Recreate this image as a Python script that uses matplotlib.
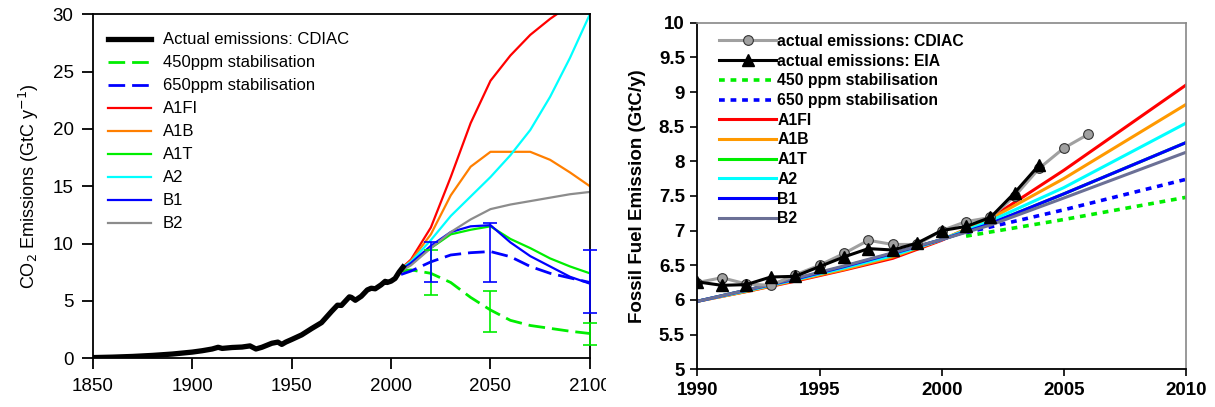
import numpy as np
import matplotlib
matplotlib.use("Agg")
import matplotlib.pyplot as plt
from matplotlib.ticker import FuncFormatter
from matplotlib.transforms import Bbox, TransformedBbox

plt.rcParams['font.family'] = ['Liberation Sans', 'DejaVu Sans']

# ---- left panel data: CDIAC history and SRES / stabilisation scenarios ----
cdiac_years = [1850, 1860, 1870, 1880, 1890, 1900, 1905, 1910, 1913, 1915, 1920, 1925,
               1929, 1932, 1935, 1940, 1943, 1945, 1947, 1950, 1955, 1960, 1965, 1970,
               1973, 1975, 1979, 1980, 1982, 1985, 1988, 1990, 1992, 1995, 1997, 1998,
               2000, 2002, 2004, 2006]
cdiac_vals = [0.05, 0.09, 0.15, 0.24, 0.36, 0.53, 0.65, 0.80, 0.95, 0.85, 0.93, 0.97,
              1.07, 0.80, 0.95, 1.30, 1.40, 1.20, 1.40, 1.63, 2.03, 2.58, 3.10, 4.07,
              4.62, 4.60, 5.35, 5.30, 5.05, 5.40, 5.95, 6.10, 6.05, 6.40, 6.70, 6.60,
              6.72, 6.95, 7.50, 7.95]

scen_years = [2005, 2010, 2020, 2030, 2040, 2050, 2060, 2070, 2080, 2090, 2100]
a1fi = [7.8, 8.6, 11.4, 15.8, 20.5, 24.2, 26.4, 28.2, 29.6, 30.8, 31.8]
a1b = [7.8, 8.5, 10.8, 14.2, 16.7, 18.0, 18.0, 18.0, 17.3, 16.2, 15.0]
a1t = [7.7, 8.3, 9.6, 10.8, 11.2, 11.5, 10.4, 9.6, 8.7, 8.0, 7.4]
a2 = [7.8, 8.4, 10.3, 12.4, 14.1, 15.8, 17.7, 19.9, 22.8, 26.2, 30.0]
b1 = [7.7, 8.3, 9.8, 11.0, 11.5, 11.6, 10.1, 8.9, 8.0, 7.1, 6.5]
b2 = [7.6, 8.1, 9.6, 11.0, 12.1, 13.0, 13.4, 13.7, 14.0, 14.3, 14.5]
stab450 = [7.6, 7.7, 7.4, 6.6, 5.3, 4.2, 3.3, 2.85, 2.6, 2.35, 2.15]
stab650 = [7.3, 7.6, 8.4, 9.0, 9.2, 9.3, 8.85, 8.0, 7.4, 7.0, 6.6]

err_years = [2020, 2050, 2100]
err450_low = [5.5, 2.3, 1.15]
err450_high = [9.4, 5.9, 3.1]
err650_low = [6.65, 6.65, 3.9]
err650_high = [10.1, 11.75, 9.4]

# ---- right panel data: 1990-2010 zoom ----
cdiac_r_years = [1990, 1991, 1992, 1993, 1994, 1995, 1996, 1997, 1998, 1999, 2000,
                 2001, 2002, 2003, 2004, 2005, 2006]
cdiac_r_vals = [6.25, 6.32, 6.23, 6.21, 6.36, 6.50, 6.67, 6.86, 6.80, 6.80, 7.00,
                7.13, 7.19, 7.50, 7.90, 8.19, 8.39]
eia_years = [1990, 1991, 1992, 1993, 1994, 1995, 1996, 1997, 1998, 1999, 2000,
             2001, 2002, 2003, 2004]
eia_vals = [6.26, 6.21, 6.22, 6.33, 6.34, 6.48, 6.62, 6.74, 6.72, 6.82, 7.00,
            7.06, 7.19, 7.55, 7.95]

r_years = [1990, 1992, 1994, 1996, 1998, 2000, 2002, 2005, 2010]
r_a1fi = [5.98, 6.12, 6.27, 6.43, 6.60, 6.86, 7.18, 7.87, 9.10]
r_a1b = [5.98, 6.12, 6.28, 6.44, 6.62, 6.87, 7.17, 7.75, 8.82]
r_a2 = [5.98, 6.13, 6.29, 6.46, 6.64, 6.87, 7.14, 7.62, 8.55]
r_b1 = [5.98, 6.14, 6.30, 6.48, 6.67, 6.87, 7.10, 7.53, 8.27]
r_a1t = [5.98, 6.14, 6.30, 6.48, 6.67, 6.87, 7.10, 7.53, 8.27]
r_b2 = [5.98, 6.14, 6.31, 6.49, 6.68, 6.87, 7.08, 7.47, 8.13]
stab_r_years = [2001, 2005, 2010]
r_stab450 = [6.92, 7.16, 7.48]
r_stab650 = [6.97, 7.30, 7.74]

fig = plt.figure(figsize=(12.15, 4.07), dpi=100)
ax_l = fig.add_axes([0.0765, 0.120, 0.409, 0.845])
ax_r = fig.add_axes([0.574, 0.093, 0.402, 0.851])

# LEFT PANEL
dash = (0, (6, 2.5))
ax_l.plot(cdiac_years, cdiac_vals, color='black', lw=3.8, label='Actual emissions: CDIAC', zorder=5)
ax_l.plot(scen_years, stab450, color='#00ee00', lw=2, ls=dash, label='450ppm stabilisation')
ax_l.plot(scen_years, stab650, color='#0000ff', lw=2, ls=dash, label='650ppm stabilisation')
ax_l.plot(scen_years, a1fi, color='#ff0000', lw=1.6, label='A1FI')
ax_l.plot(scen_years, a1b, color='#ff7f00', lw=1.6, label='A1B')
ax_l.plot(scen_years, a1t, color='#00ee00', lw=1.6, label='A1T')
ax_l.plot(scen_years, a2, color='#00ffff', lw=1.6, label='A2')
ax_l.plot(scen_years, b1, color='#0000ff', lw=1.6, label='B1')
ax_l.plot(scen_years, b2, color='#8c8c8c', lw=1.6, label='B2')

for low, high, col in [(err450_low, err450_high, '#00ee00'), (err650_low, err650_high, '#0000ff')]:
    low = np.array(low)
    high = np.array(high)
    eb = ax_l.errorbar(err_years, (low + high) / 2, yerr=(high - low) / 2, fmt='none',
                       ecolor=col, elinewidth=1.2, capsize=5, capthick=1.2, zorder=4)
    for art in eb.lines[1] + eb.lines[2]:
        art.set_clip_on(False)

ax_l.set_xlim(1850, 2100)
ax_l.set_ylim(0, 30)
ax_l.set_xticks([1850, 1900, 1950, 2000, 2050, 2100])
ax_l.set_yticks([0, 5, 10, 15, 20, 25, 30])
ax_l.tick_params(direction='out', length=8, width=1.3, labelsize=13.5, pad=6)
for sp in ax_l.spines.values():
    sp.set_linewidth(1.3)
ax_l.set_ylabel('CO$_2$ Emissions (GtC y$^{-1}$)', fontsize=13, labelpad=8)
ax_l.legend(loc='upper left', bbox_to_anchor=(0.03, 0.947), frameon=False, fontsize=12,
            handlelength=2.6, handletextpad=0.7, labelspacing=0.48, borderpad=0,
            borderaxespad=0)

# clip the last x tick label as in the original cut-out
fig.canvas.draw()
clip = TransformedBbox(Bbox([[0, 0], [606 / 1215, 1]]), fig.transFigure)
for lab in ax_l.get_xticklabels():
    lab.set_clip_box(clip)
    lab.set_clip_on(True)

# RIGHT PANEL
dot = (0, (1.6, 1.6))
ax_r.plot(cdiac_r_years, cdiac_r_vals, color='#a0a0a0', lw=2.2, marker='o', ms=7,
          mfc='#a0a0a0', mec='#333333', mew=0.8, label='actual emissions: CDIAC', zorder=5)
ax_r.plot(eia_years, eia_vals, color='black', lw=2.2, marker='^', ms=9,
          label='actual emissions: EIA', zorder=6)
ax_r.plot(stab_r_years, r_stab450, color='#00ee00', lw=2.6, ls=dot, label='450 ppm stabilisation')
ax_r.plot(stab_r_years, r_stab650, color='#0000ff', lw=2.6, ls=dot, label='650 ppm stabilisation')
ax_r.plot(r_years, r_a1fi, color='#ff0000', lw=2.2, label='A1FI')
ax_r.plot(r_years, r_a1b, color='#ff9900', lw=2.2, label='A1B')
ax_r.plot(r_years, r_a1t, color='#00ee00', lw=2.2, label='A1T', zorder=1.5)
ax_r.plot(r_years, r_a2, color='#00ffff', lw=2.2, label='A2')
ax_r.plot(r_years, r_b1, color='#0000ff', lw=2.2, label='B1')
ax_r.plot(r_years, r_b2, color='#6b7096', lw=2.2, label='B2')

ax_r.set_xlim(1990, 2010)
ax_r.set_ylim(5, 10)
ax_r.set_xticks([1990, 1995, 2000, 2005, 2010])
ax_r.set_yticks(np.arange(5, 10.01, 0.5))
ax_r.yaxis.set_major_formatter(FuncFormatter(lambda v, p: '%g' % v))
ax_r.tick_params(direction='out', length=5, width=1.2, labelsize=13.5, pad=4)
for lab in ax_r.get_xticklabels() + ax_r.get_yticklabels():
    lab.set_fontweight('bold')
ax_r.spines['left'].set_linewidth(1.3)
ax_r.spines['bottom'].set_linewidth(1.3)
ax_r.spines['top'].set_color('#888888')
ax_r.spines['right'].set_color('#888888')
ax_r.spines['top'].set_linewidth(1.2)
ax_r.spines['right'].set_linewidth(1.2)
ax_r.set_ylabel('Fossil Fuel Emission (GtC/y)', fontsize=13.5, fontweight='bold', labelpad=9)
ax_r.legend(loc='upper left', bbox_to_anchor=(0.045, 0.968), frameon=False,
            prop={'size': 11.3, 'weight': 'bold'}, handlelength=3.6, handletextpad=0.1,
            labelspacing=0.3, borderpad=0, borderaxespad=0)

fig.savefig('out.png', dpi=100)
